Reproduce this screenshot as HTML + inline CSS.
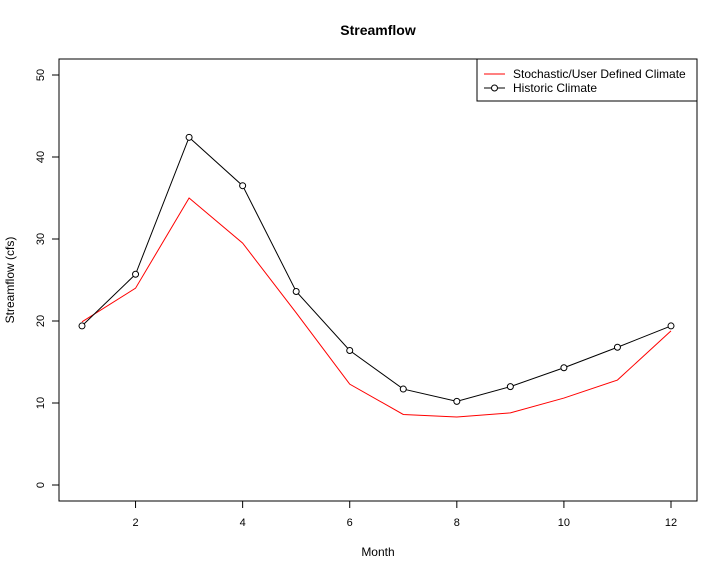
<!DOCTYPE html>
<html><head><meta charset="utf-8"><style>
body{margin:0;background:#fff;}
svg{display:block;font-family:"Liberation Sans",sans-serif;}
</style></head><body>
<svg id="chart" width="725" height="575">
<rect width="725" height="575" fill="#fff"/>
<text x="378" y="35" text-anchor="middle" font-size="14" font-weight="bold">Streamflow</text>
<text x="378" y="556" text-anchor="middle" font-size="12">Month</text>
<text transform="translate(14,280) rotate(-90)" text-anchor="middle" font-size="12">Streamflow (cfs)</text>
<rect x="59" y="59" width="638" height="442" fill="none" stroke="#000"/>
<g id="xaxis"></g>
<g id="yaxis"></g>
<g id="series"></g>
<g>
<rect x="477" y="59" width="220" height="42" fill="#fff" stroke="#000"/>
<line x1="484" y1="74" x2="505" y2="74" stroke="red"/>
<text x="513" y="78" font-size="12">Stochastic/User Defined Climate</text>
<line x1="484" y1="88" x2="505" y2="88" stroke="#000"/>
<circle cx="494.5" cy="88" r="3" fill="#fff" stroke="#000"/>
<text x="513" y="92" font-size="12">Historic Climate</text>
</g>
</svg>
<script>
const months=[1,2,3,4,5,6,7,8,9,10,11,12];
const stochastic=[19.9,24.0,35.0,29.5,21.0,12.3,8.6,8.3,8.8,10.6,12.8,18.8];
const historic=[19.4,25.7,42.4,36.5,23.6,16.4,11.7,10.2,12.0,14.3,16.8,19.4];
const xTicks=[2,4,6,8,10,12];
const yTicks=[0,10,20,30,40,50];
const NS="http://www.w3.org/2000/svg";
function xs(v){return 82+(v-1)*(589/11);}
function ys(v){return 485-v*8.2;}
function mk(tag,attrs,parent){const e=document.createElementNS(NS,tag);for(const k in attrs)e.setAttribute(k,attrs[k]);parent.appendChild(e);return e;}
const xa=document.getElementById('xaxis'),ya=document.getElementById('yaxis'),sg=document.getElementById('series');
xTicks.forEach(t=>{
 const l=mk('line',{x1:xs(t),x2:xs(t),y1:501,y2:508,stroke:'#000'},xa);
 
 
 const tx=mk('text',{x:xs(t),y:526,'text-anchor':'middle','font-size':11},xa);tx.textContent=t;
 
 
});
yTicks.forEach(t=>{
 const l=mk('line',{x1:52,x2:59,y1:ys(t),y2:ys(t),stroke:'#000'},ya);
 
 
 const tx=mk('text',{transform:`translate(44,${ys(t)}) rotate(-90)`,'text-anchor':'middle','font-size':11},ya);tx.textContent=t;
 
 
});
const rp=mk('polyline',{points:months.map((m,i)=>xs(m)+','+ys(stochastic[i])).join(' '),fill:'none',stroke:'red'},sg);


const hp=mk('polyline',{points:months.map((m,i)=>xs(m)+','+ys(historic[i])).join(' '),fill:'none',stroke:'#000'},sg);


months.forEach((m,i)=>{
 const c=mk('circle',{cx:xs(m),cy:ys(historic[i]),r:3,fill:'#fff',stroke:'#000'},sg);
 
 
});
</script>
</body></html>
